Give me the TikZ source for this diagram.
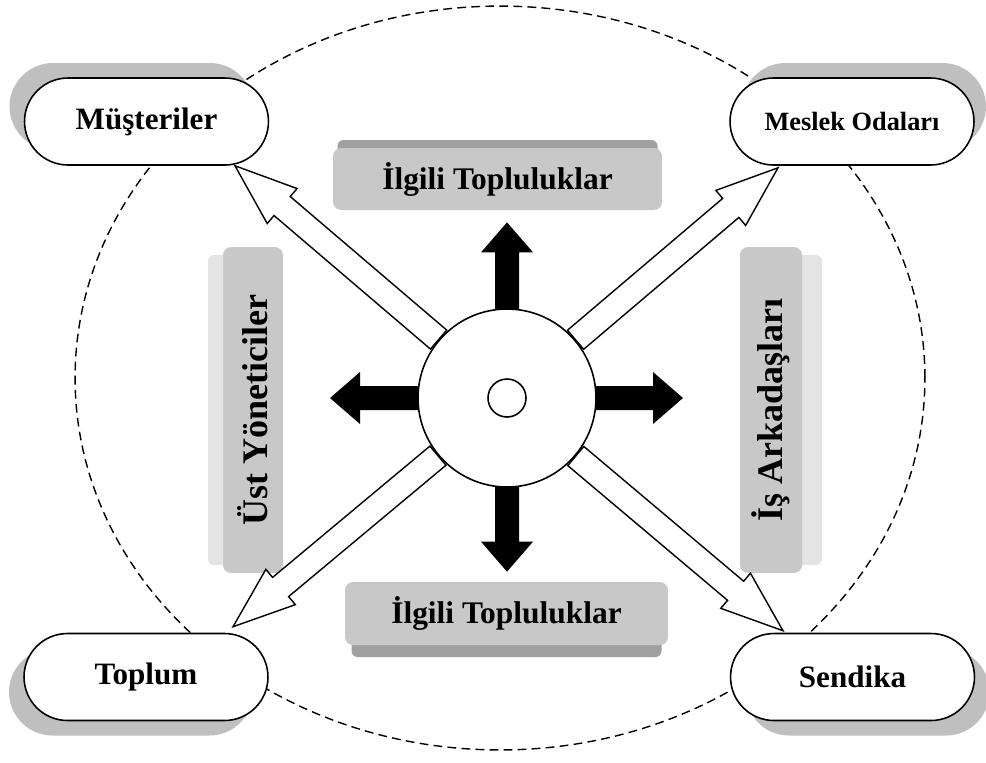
\documentclass[tikz,border=0pt]{standalone}
\usepackage{fontspec}
\setmainfont{Liberation Serif}
\usetikzlibrary{calc,positioning,shapes.misc,shadows,backgrounds}
\definecolor{faceGray}{RGB}{200,200,200}
\definecolor{bevelDark}{RGB}{160,160,160}
\definecolor{bevelLight}{RGB}{228,228,228}
\definecolor{shadowGray}{RGB}{191,191,191}
\newcommand{\blockarrow}[6]{%
	\path[#1] ($(#2)!#4!90:(#3)$) -- ($(#3)!#6!(#2)!#4!90:(#3)$)
		-- ($(#3)!#6!(#2)!#5!90:(#3)$) -- (#3)
		-- ($(#3)!#6!(#2)!#5!-90:(#3)$) -- ($(#3)!#6!(#2)!#4!-90:(#3)$)
		-- ($(#2)!#4!-90:(#3)$) -- cycle;}

\begin{document}
\begin{tikzpicture}[x=0.02cm,y=-0.02cm,
		pill/.style={rounded rectangle, draw, line width=0.9pt, fill=white,
			minimum width=4.88cm, minimum height=1.74cm, inner sep=0pt,
			font=\fontsize{17.7}{20}\selectfont\bfseries},
		grpbox/.style={rectangle, rounded corners=0.16cm, fill=faceGray, inner sep=0pt,
			font=\fontsize{17.9}{20}\selectfont\bfseries},
		hub/.style={circle, draw, line width=0.9pt, fill=white, inner sep=0pt},
		fatarrow/.style={fill=black},
		hollowarrow/.style={draw, fill=white, line width=0.8pt, line join=miter}]
	\useasboundingbox (0,0) rectangle (986,762);

	\node[pill, drop shadow={shadow xshift=-0.3cm, shadow yshift=0.3cm, fill=shadowGray, opacity=1}] (musteri) at (146.5,121.5) {Müşteriler};
	\node[pill, font=\fontsize{15}{18}\selectfont\bfseries, drop shadow={shadow xshift=0.24cm, shadow yshift=0.3cm, fill=shadowGray, opacity=1}] (meslek) at (852,121.5) {Meslek Odaları};
	\node[pill, drop shadow={shadow xshift=-0.3cm, shadow yshift=-0.3cm, fill=shadowGray, opacity=1}] (toplum) at (146,677) {Toplum};
	\node[pill, drop shadow={shadow xshift=0.3cm, shadow yshift=-0.3cm, fill=shadowGray, opacity=1}] (sendika) at (852.5,677) {Sendika};

	\node[grpbox, minimum width=6.58cm, minimum height=1.24cm] (ilgiliUst) at (497.5,179) {İlgili Topluluklar};
	\node[grpbox, minimum width=6.46cm, minimum height=1.26cm] (ilgiliAlt) at (506.5,613.5) {İlgili Topluluklar};
	\node[grpbox, rotate=90, minimum width=6.52cm, minimum height=1.2cm, font=\fontsize{20.5}{22}\selectfont\bfseries] (ustYon) at (253,410) {Üst Yöneticiler};
	\node[grpbox, rotate=90, minimum width=6.52cm, minimum height=1.24cm, font=\fontsize{20.5}{22}\selectfont\bfseries] (isArk) at (771,410) {İş Arkadaşları};

	\node[hub, minimum size=3.56cm] (hub) at (507,398) {};
	\node[hub, minimum size=0.76cm] (core) at (hub) {};

	\coordinate (upTip) at ($(hub |- ilgiliUst.south)+(0,12)$);
	\coordinate (downTip) at ($(hub |- ilgiliAlt.north)+(0,-10)$);
	\coordinate (leftTip) at ($(hub)+(-177,0)$);
	\coordinate (rightTip) at ($(hub)+(176,0)$);

	\coordinate (musTip) at ($(musteri.south)+(88.5,0)$);
	\coordinate (mesTip) at ($(meslek.south)+(-74,2)$);
	\coordinate (topTip) at ($(toplum.north)+(87,-6)$);
	\coordinate (senTip) at ($(sendika.north)+(-69.5,-2)$);
	\coordinate (musTail) at ($(hub)!1.8cm!(musTip)$);
	\coordinate (mesTail) at ($(hub)!1.8cm!(mesTip)$);
	\coordinate (topTail) at ($(hub)!1.8cm!(topTip)$);
	\coordinate (senTail) at ($(hub)!1.8cm!(senTip)$);

	\begin{scope}[on background layer]
		\draw[line width=0.8pt, dash pattern=on 5pt off 3pt] (500,378) ellipse [x radius=8.5cm, y radius=7.44cm];
		\fill[bevelDark, rounded corners=0.12cm] ($(ilgiliUst.center)+(-160,-39)$) rectangle ($(ilgiliUst.center)+(160,-20)$);
		\fill[bevelDark, rounded corners=0.12cm] ($(ilgiliAlt.center)+(-155,20)$) rectangle ($(ilgiliAlt.center)+(155,43.5)$);
		\fill[bevelLight, rounded corners=0.12cm] ($(ustYon.center)+(-45,-155)$) rectangle ($(ustYon.center)+(-20,155)$);
		\fill[bevelLight, rounded corners=0.12cm] ($(isArk.center)+(20,-155)$) rectangle ($(isArk.center)+(51,155)$);
		\blockarrow{fatarrow}{hub}{upTip}{0.24cm}{0.52cm}{0.6cm}
		\blockarrow{fatarrow}{hub}{downTip}{0.24cm}{0.52cm}{0.6cm}
		\blockarrow{fatarrow}{hub}{leftTip}{0.24cm}{0.52cm}{0.6cm}
		\blockarrow{fatarrow}{hub}{rightTip}{0.24cm}{0.52cm}{0.6cm}
	\end{scope}

	\blockarrow{hollowarrow}{musTail}{musTip}{0.25cm}{0.46cm}{1.24cm}
	\blockarrow{hollowarrow}{mesTail}{mesTip}{0.25cm}{0.46cm}{1.24cm}
	\blockarrow{hollowarrow}{topTail}{topTip}{0.25cm}{0.46cm}{1.24cm}
	\blockarrow{hollowarrow}{senTail}{senTip}{0.25cm}{0.46cm}{1.24cm}
\end{tikzpicture}
\end{document}
